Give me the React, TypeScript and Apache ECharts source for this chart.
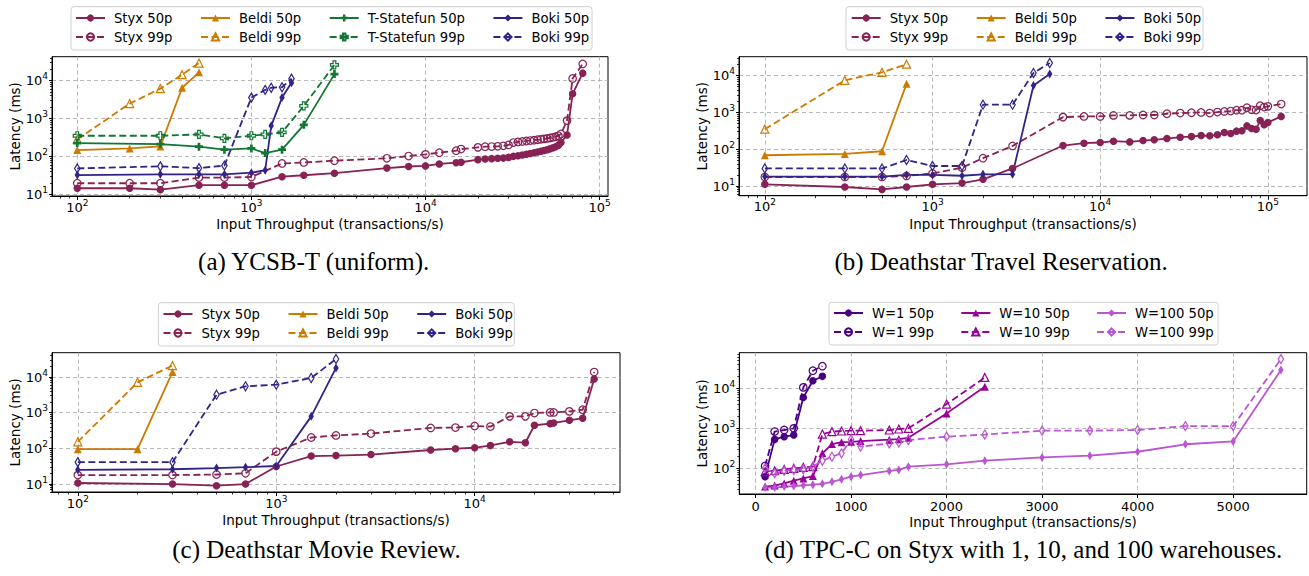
import { useEffect, useRef } from "react";
import * as echarts from "echarts";

type Pt = [number, number];

// ---------- (a) YCSB-T (uniform) ----------
const A_STYX_50: Pt[] = [[100,14.4],[200,14.4],[300,13.2],[500,17.3],[700,17.3],[1000,17.3],[1500,29],[2000,31.7],[3000,36],[6000,49],[8000,54],[10000,56],[12000,63],[15000,68],[16000,70],[20000,82],[22000,85],[24000,87],[26000,89],[28000,90],[30000,94],[32000,100],[34000,104],[36000,109],[38000,114],[40000,119],[42000,124],[44000,130],[46000,136],[48000,143],[50000,150],[52000,158],[54000,168],[56000,180],[58000,198],[60000,232],[65000,366],[70000,4500],[80000,15800]];
const A_STYX_99: Pt[] = [[100,19.5],[200,19.5],[300,19.5],[500,27.5],[700,27.5],[1000,28.5],[1500,65],[2000,69],[3000,77],[6000,89],[8000,102],[10000,113],[12000,125],[15000,141],[16000,156],[20000,173],[22000,180],[24000,182],[26000,184],[28000,190],[30000,200],[32000,232],[34000,240],[36000,248],[38000,255],[40000,262],[42000,268],[44000,275],[46000,282],[48000,290],[50000,298],[52000,307],[54000,318],[56000,330],[58000,350],[60000,390],[65000,880],[70000,11400],[80000,27700]];
const A_BELDI_50: Pt[] = [[100,147],[200,162],[300,183],[400,6500],[500,16600]];
const A_BELDI_99: Pt[] = [[100,280],[200,2480],[300,6160],[400,14400],[500,29200]];
const A_TSF_50: Pt[] = [[100,224],[300,211],[500,180],[700,150],[1000,162],[1200,122],[1500,150],[2000,680],[3000,14900]];
const A_TSF_99: Pt[] = [[100,350],[300,350],[500,380],[700,300],[1000,350],[1200,380],[1500,430],[2000,2150],[3000,26100]];
const A_BOKI_50: Pt[] = [[100,32],[300,33.6],[500,33.6],[700,33.6],[1000,37],[1200,43],[1300,640],[1500,3570],[1700,8850]];
const A_BOKI_99: Pt[] = [[100,48],[300,54.6],[500,49],[700,57],[1000,3570],[1200,5700],[1300,6500],[1500,6700],[1700,11300]];

// ---------- (b) Deathstar Travel Reservation ----------
const B_STYX_50: Pt[] = [[100,11.1],[300,9.4],[500,8.1],[700,9.4],[1000,11.1],[1500,12],[2000,15.2],[3000,30],[6000,126],[8000,146],[10000,152],[12000,165],[15000,158],[18000,172],[21000,180],[25000,195],[30000,212],[35000,220],[40000,236],[45000,231],[50000,246],[55000,285],[60000,267],[65000,310],[70000,316],[75000,430],[80000,366],[85000,350],[90000,605],[95000,460],[100000,530],[120000,780]];
const B_STYX_99: Pt[] = [[100,17.6],[300,17.6],[500,17.6],[700,18.8],[1000,22],[1500,31.6],[2000,57],[3000,123],[6000,745],[8000,778],[10000,778],[12000,830],[15000,830],[18000,850],[21000,850],[25000,920],[30000,960],[35000,980],[40000,1000],[45000,960],[50000,1020],[55000,1065],[60000,1090],[65000,1150],[70000,1150],[75000,1340],[80000,1180],[85000,1160],[90000,1520],[95000,1400],[100000,1460],[120000,1690]];
const B_BELDI_50: Pt[] = [[100,68.6],[300,74.6],[500,88],[700,6050]];
const B_BELDI_99: Pt[] = [[100,351],[300,7450],[500,12300],[700,20400]];
const B_BOKI_50: Pt[] = [[100,18],[300,18],[500,18],[700,20],[1000,20],[1500,19],[2000,20.8],[3000,21],[4000,5400],[5000,11000]];
const B_BOKI_99: Pt[] = [[100,30],[300,30],[500,30],[700,51],[1000,35],[1500,35],[2000,1620],[3000,1620],[4000,11800],[5000,22000]];

// ---------- (c) Deathstar Movie Review ----------
const C_STYX_50: Pt[] = [[100,10.7],[300,10],[500,9],[700,10],[1000,31],[1500,61],[2000,63],[3000,67],[6000,90],[8000,98],[10000,104],[12000,121],[15000,153],[18000,144],[20000,445],[24000,494],[25000,517],[30000,612],[35000,700],[40000,8800]];
const C_STYX_99: Pt[] = [[100,17.8],[300,17.8],[500,18.5],[700,20],[1000,81],[1500,202],[2000,230],[3000,260],[6000,375],[8000,383],[10000,425],[12000,408],[15000,790],[18000,790],[20000,980],[24000,1020],[25000,1020],[30000,1090],[35000,1210],[40000,13800]];
const C_BELDI_50: Pt[] = [[100,95],[200,95],[300,13800]];
const C_BELDI_99: Pt[] = [[100,153],[200,7100],[300,21000]];
const C_BOKI_50: Pt[] = [[100,25],[300,26],[500,28],[700,29.7],[1000,32],[1500,790],[2000,18000]];
const C_BOKI_99: Pt[] = [[100,41],[300,41],[500,3200],[700,5500],[1000,6100],[1500,9400],[2000,32000]];

// ---------- (d) TPC-C on Styx ----------
const D_W1_50: Pt[] = [[100,62],[200,530],[300,620],[400,680],[500,5900],[600,15500],[700,20000]];
const D_W1_99: Pt[] = [[100,115],[200,830],[300,910],[400,1000],[500,10600],[600,27700],[700,36000]];
const D_W10_50: Pt[] = [[100,35],[200,37],[300,42],[400,49],[500,56],[600,64],[700,237],[800,405],[900,450],[1000,460],[1100,480],[1400,520],[1500,540],[1600,580],[2000,2370],[2400,11000]];
const D_W10_99: Pt[] = [[100,83],[200,87],[300,94],[400,100],[500,106],[600,110],[700,720],[800,825],[900,860],[1000,875],[1100,875],[1400,910],[1500,965],[1600,1000],[2000,4060],[2400,18800]];
const D_W100_50: Pt[] = [[100,33],[200,33],[300,35],[400,36],[500,37.5],[600,39],[700,41],[800,46],[900,53],[1000,62],[1100,68],[1400,86],[1500,91],[1600,110],[2000,126],[2400,155],[3000,188],[3500,207],[4000,260],[4500,400],[5000,470],[5500,28700]];
const D_W100_99: Pt[] = [[100,100],[200,75],[300,86],[400,91],[500,94],[600,110],[700,155],[800,195],[900,237],[1000,530],[1100,350],[1400,420],[1500,440],[1600,510],[2000,620],[2400,700],[3000,875],[3500,875],[4000,910],[4500,1140],[5000,1140],[5500,54000]];
const D_X_TICKS = [0, 1000, 2000, 3000, 4000, 5000];

const X_NAME = "Input Throughput (transactions/s)";
const Y_NAME = "Latency (ms)";

const C_STYX = "#882255";
const C_BELDI = "#cc7a00";
const C_TSF = "#117733";
const C_BOKI = "#332288";
const C_W1 = "#4b0082";
const C_W10 = "#990099";
const C_W100 = "#ba55d3";

const FONT = "DejaVu Sans";
const DASH = [7, 3.5];
const GRID_C = "#b0b0b0";

const MARKERS: Record<string, { symbol: string; size: number }> = {
  circle: { symbol: "circle", size: 7.5 },
  triangle: { symbol: "triangle", size: 8 },
  plus: { symbol: "path://M-1,-3L1,-3L1,-1L3,-1L3,1L1,1L1,3L-1,3L-1,1L-3,1L-3,-1L-1,-1Z", size: 8 },
  thin: { symbol: "path://M0,-5L3,0L0,5L-3,0Z", size: 9 },
};

type SSpec = { name: string; data: Pt[]; color: string; marker: string; p99: boolean };
type Panel = {
  grid: { left: number; top: number; width: number; height: number };
  xLog: boolean;
  series: SSpec[];
  rows: string[][];
  legendLeft: number;
  legendTops: number[];
  legendGap: number;
  box: number[];
  caption: string;
  capX: number;
  capY: number;
};

const sp = (name: string, data: Pt[], color: string, marker: string, p99: boolean): SSpec => ({ name, data, color, marker, p99 });

const PANELS: Panel[] = [
  {
    grid: { left: 52, top: 56.7, width: 556, height: 139.3 },
    xLog: true,
    series: [
      sp("Styx 50p", A_STYX_50, C_STYX, "circle", false), sp("Styx 99p", A_STYX_99, C_STYX, "circle", true),
      sp("Beldi 50p", A_BELDI_50, C_BELDI, "triangle", false), sp("Beldi 99p", A_BELDI_99, C_BELDI, "triangle", true),
      sp("T-Statefun 50p", A_TSF_50, C_TSF, "plus", false), sp("T-Statefun 99p", A_TSF_99, C_TSF, "plus", true),
      sp("Boki 50p", A_BOKI_50, C_BOKI, "thin", false), sp("Boki 99p", A_BOKI_99, C_BOKI, "thin", true),
    ],
    rows: [["Styx 50p", "Beldi 50p", "T-Statefun 50p", "Boki 50p"], ["Styx 99p", "Beldi 99p", "T-Statefun 99p", "Boki 99p"]],
    legendLeft: 75, legendTops: [11.5, 30.5], legendGap: 27.5, box: [71, 6.7, 521, 43.3],
    caption: "(a) YCSB-T (uniform).", capX: 313.7, capY: 261.7,
  },
  {
    grid: { left: 739, top: 56.7, width: 568, height: 139 },
    xLog: true,
    series: [
      sp("Styx 50p", B_STYX_50, C_STYX, "circle", false), sp("Styx 99p", B_STYX_99, C_STYX, "circle", true),
      sp("Beldi 50p", B_BELDI_50, C_BELDI, "triangle", false), sp("Beldi 99p", B_BELDI_99, C_BELDI, "triangle", true),
      sp("Boki 50p", B_BOKI_50, C_BOKI, "thin", false), sp("Boki 99p", B_BOKI_99, C_BOKI, "thin", true),
    ],
    rows: [["Styx 50p", "Beldi 50p", "Boki 50p"], ["Styx 99p", "Beldi 99p", "Boki 99p"]],
    legendLeft: 850.7, legendTops: [11.5, 30.5], legendGap: 27.5, box: [846, 6.7, 357, 43.3],
    caption: "(b) Deathstar Travel Reservation.", capX: 1001, capY: 261.7,
  },
  {
    grid: { left: 52, top: 352.7, width: 568, height: 139.3 },
    xLog: true,
    series: [
      sp("Styx 50p", C_STYX_50, C_STYX, "circle", false), sp("Styx 99p", C_STYX_99, C_STYX, "circle", true),
      sp("Beldi 50p", C_BELDI_50, C_BELDI, "triangle", false), sp("Beldi 99p", C_BELDI_99, C_BELDI, "triangle", true),
      sp("Boki 50p", C_BOKI_50, C_BOKI, "thin", false), sp("Boki 99p", C_BOKI_99, C_BOKI, "thin", true),
    ],
    rows: [["Styx 50p", "Beldi 50p", "Boki 50p"], ["Styx 99p", "Beldi 99p", "Boki 99p"]],
    legendLeft: 162.5, legendTops: [307.5, 326.5], legendGap: 27.5, box: [158.3, 302.7, 356, 43.3],
    caption: "(c) Deathstar Movie Review.", capX: 316.5, capY: 549,
  },
  {
    grid: { left: 739.3, top: 352.7, width: 567.4, height: 141.3 },
    xLog: false,
    series: [
      sp("W=1 50p", D_W1_50, C_W1, "circle", false), sp("W=1 99p", D_W1_99, C_W1, "circle", true),
      sp("W=10 50p", D_W10_50, C_W10, "triangle", false), sp("W=10 99p", D_W10_99, C_W10, "triangle", true),
      sp("W=100 50p", D_W100_50, C_W100, "thin", false), sp("W=100 99p", D_W100_99, C_W100, "thin", true),
    ],
    rows: [["W=1 50p", "W=10 50p", "W=100 50p"], ["W=1 99p", "W=10 99p", "W=100 99p"]],
    legendLeft: 833, legendTops: [306.5, 325.5], legendGap: 26.5, box: [829, 302.3, 389, 42.7],
    caption: "(d) TPC-C on Styx with 1, 10, and 100 warehouses.", capX: 1023.5, capY: 549,
  },
];

function extentOf(series: SSpec[], dim: 0 | 1, log: boolean): [number, number] {
  let lo = Infinity, hi = -Infinity;
  for (const s of series) for (const p of s.data) {
    const v = log ? Math.log10(p[dim]) : p[dim];
    lo = Math.min(lo, v); hi = Math.max(hi, v);
  }
  const pad = (hi - lo) * 0.05;
  return [lo - pad, hi + pad];
}
function majors(lo: number, hi: number) {
  const out: number[] = [];
  for (let e = Math.ceil(lo); e <= Math.floor(hi); e++) out.push(Math.pow(10, e));
  return out;
}
function minors(lo: number, hi: number) {
  const out: number[] = [];
  for (let e = Math.floor(lo); e <= Math.ceil(hi); e++)
    for (let m = 2; m <= 9; m++) {
      const v = m * Math.pow(10, e);
      const l = Math.log10(v);
      if (l > lo && l < hi) out.push(v);
    }
  return out;
}

const RICH = {
  b: { fontFamily: FONT, fontSize: 13, color: "#000" },
  s: { fontFamily: FONT, fontSize: 9, color: "#000", padding: [0, 0, 9, 0] },
};
const powFmt = (v: number) => `{b|10}{s|${Math.round(Math.log10(v))}}`;
const plainFmt = (v: number) => String(Math.round(v));
const nameStyle = { fontFamily: FONT, fontSize: 13.5, color: "#000" };

function buildOption() {
  const grids: any[] = [], xAxes: any[] = [], yAxes: any[] = [], series: any[] = [], legends: any[] = [], graphics: any[] = [];
  PANELS.forEach((P, i) => {
    grids.push({ ...P.grid, show: true, borderColor: "#000", borderWidth: 1, backgroundColor: "transparent", containLabel: false });
    const [ylo, yhi] = extentOf(P.series, 1, true);
    const yMaj = majors(ylo, yhi);
    if (P.xLog) {
      const [xlo, xhi] = extentOf(P.series, 0, true);
      const xMaj = majors(xlo, xhi);
      xAxes.push({
        type: "log", logBase: 10, gridIndex: i, position: "bottom", min: Math.pow(10, xlo), max: Math.pow(10, xhi),
        name: X_NAME, nameLocation: "middle", nameGap: 21, nameTextStyle: nameStyle,
        axisLine: { show: true, onZero: false, lineStyle: { color: "#000", width: 1 } },
        axisTick: { show: true, inside: false, length: 4, customValues: xMaj, lineStyle: { color: "#000", width: 1 } },
        axisLabel: { show: true, customValues: xMaj, formatter: powFmt, rich: RICH, margin: 2, color: "#000" },
        splitLine: { show: true, lineStyle: { color: GRID_C, type: [4, 3], width: 0.9 } },
        minorTick: { show: false }, minorSplitLine: { show: false },
      });
      xAxes.push({
        type: "log", logBase: 10, gridIndex: i, position: "bottom", min: Math.pow(10, xlo), max: Math.pow(10, xhi),
        axisLine: { show: false, onZero: false }, axisLabel: { show: false },
        axisTick: { show: true, inside: false, length: 2.5, customValues: minors(xlo, xhi), lineStyle: { color: "#000", width: 0.8 } },
        splitLine: { show: false },
      });
    } else {
      const [xlo, xhi] = extentOf(P.series, 0, false);
      xAxes.push({
        type: "value", gridIndex: i, position: "bottom", min: xlo, max: xhi,
        name: X_NAME, nameLocation: "middle", nameGap: 21, nameTextStyle: nameStyle,
        axisLine: { show: true, onZero: false, lineStyle: { color: "#000", width: 1 } },
        axisTick: { show: true, inside: false, length: 4, customValues: D_X_TICKS, lineStyle: { color: "#000", width: 1 } },
        axisLabel: { show: true, customValues: D_X_TICKS, formatter: plainFmt, fontFamily: FONT, fontSize: 13, margin: 6, color: "#000" },
        splitLine: { show: true, lineStyle: { color: GRID_C, type: [4, 3], width: 0.9 } },
      });
      xAxes.push({
        type: "value", gridIndex: i, position: "bottom", min: xlo, max: xhi, show: false,
      });
    }
    yAxes.push({
      type: "log", logBase: 10, gridIndex: i, position: "left", min: Math.pow(10, ylo), max: Math.pow(10, yhi),
      name: Y_NAME, nameLocation: "middle", nameGap: 30.5, nameTextStyle: nameStyle,
      axisLine: { show: true, onZero: false, lineStyle: { color: "#000", width: 1 } },
      axisTick: { show: true, inside: false, length: 3, customValues: yMaj, lineStyle: { color: "#000", width: 1 } },
      axisLabel: { show: true, customValues: yMaj, formatter: powFmt, rich: RICH, margin: 4, color: "#000" },
      splitLine: { show: true, lineStyle: { color: GRID_C, type: [4, 3], width: 0.9 } },
      minorTick: { show: false }, minorSplitLine: { show: false },
    });
    yAxes.push({
      type: "log", logBase: 10, gridIndex: i, position: "left", min: Math.pow(10, ylo), max: Math.pow(10, yhi),
      axisLine: { show: false, onZero: false }, axisLabel: { show: false },
      axisTick: { show: true, inside: false, length: 2, customValues: minors(ylo, yhi), lineStyle: { color: "#000", width: 0.8 } },
      splitLine: { show: false },
    });
    P.series.forEach((s) => {
      const m = MARKERS[s.marker];
      series.push({
        type: "line", name: s.name, data: s.data, xAxisIndex: i * 2, yAxisIndex: i * 2,
        symbol: m.symbol, symbolSize: m.size, symbolKeepAspect: true, showSymbol: true, showAllSymbol: true,
        lineStyle: { color: s.color, width: 1.8, type: s.p99 ? DASH : "solid" },
        itemStyle: s.p99
          ? { color: "rgba(255,255,255,0)", borderColor: s.color, borderWidth: 1.2 }
          : { color: s.color, borderColor: s.color, borderWidth: 0 },
        emphasis: { disabled: true }, clip: true, z: 2,
      });
    });
    P.rows.forEach((row, r) => {
      legends.push({
        show: true, data: row, left: P.legendLeft, top: P.legendTops[r], orient: "horizontal",
        itemWidth: 29, itemHeight: 9, itemGap: P.legendGap, padding: 0, selectedMode: false,
        textStyle: { fontFamily: FONT, fontSize: 13.2, color: "#000", padding: [0, 0, 0, 4] },
      });
    });
    graphics.push({
      type: "rect", silent: true, z: 0,
      shape: { x: P.box[0], y: P.box[1], width: P.box[2], height: P.box[3], r: 3 },
      style: { fill: "rgba(255,255,255,0.8)", stroke: "#d0d0d0", lineWidth: 1 },
    });
    graphics.push({
      type: "text", silent: true, x: P.capX, y: P.capY,
      style: { text: P.caption, font: '25px "Liberation Serif"', fill: "#000", align: "center", verticalAlign: "middle" },
    });
  });
  return {
    animation: false,
    backgroundColor: "#fff",
    textStyle: { fontFamily: FONT },
    grid: grids, xAxis: xAxes, yAxis: yAxes, series, legend: legends, graphic: graphics,
  };
}

export default function App() {
  const ref = useRef<HTMLDivElement>(null);
  useEffect(() => {
    document.body.style.margin = "0";
    const chart = echarts.init(ref.current!, undefined, { renderer: "svg" });
    chart.setOption(buildOption() as any);
    return () => chart.dispose();
  }, []);
  return <div ref={ref} style={{ position: "absolute", left: 0, top: 0, width: 1309, height: 576 }} />;
}
